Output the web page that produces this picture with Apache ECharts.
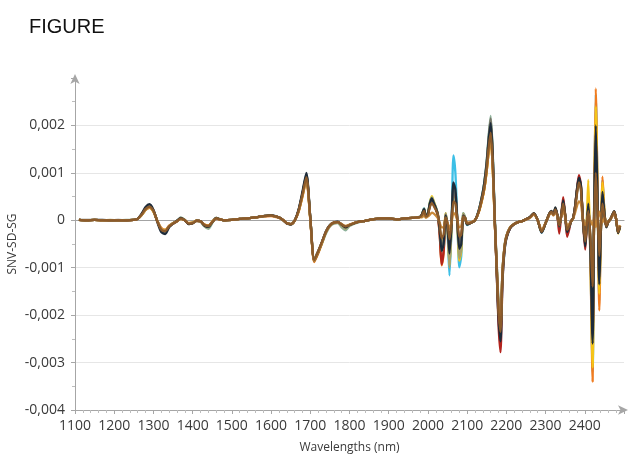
<!DOCTYPE html>
<html>
<head>
<meta charset="utf-8">
<script src="https://cdn.jsdelivr.net/npm/echarts@6/dist/echarts.min.js"></script>
<style>html,body{margin:0;padding:0;background:#fff}#c{width:629px;height:461px}</style>
</head>
<body>
<div id="c"></div>
<script>
// Wavelengths (nm)
const wavelengths = [
 1110,1130,1150,1170,1190,1210,1230,1250,
 1260,1270,1280,1290,1300,1310,1320,1330,1340,1350,1360,1370,1380,1390,1400,1410,1420,1430,1440,1450,1460,1470,1480,
 1500,1520,1540,1560,1580,1600,1620,
 1630,1640,1650,1660,1670,1680,1690,1700,1710,1720,1730,1740,1750,1760,1770,1780,1790,
 1800,1820,1840,1860,1880,1900,1920,1940,1960,1980,
 1985,1990,1995,2000,2005,2010,2015,2020,2025,2030,2035,2040,2045,2050,2055,2060,2065,2070,2075,2080,2085,2090,2095,2100,
 2110,2120,2130,2140,2145,2150,2155,2160,2165,2170,2175,2180,2185,2190,2195,2200,
 2210,2220,2230,2240,2250,2260,2270,2280,2290,2300,2310,
 2315,2320,2325,2330,2335,2340,2345,2350,2355,2360,2365,2370,2375,
 2380,2385,2390,2395,2401,2405,2409,2414,2420,2424,2428,2433,2437,2441,2445,2450,2455,2460,
 2465,2470,2475,2480,2485,2490
];

// SNV-SD-SG values, in units of 1e-4
const specCyan = [
 0.1,0,0.1,0,0,0,0,0.1,
 0.3,1.2,2.4,3,2,-0.2,-2,-2.4,-1.3,-0.7,-0.2,0.4,0,-0.7,-0.6,-0.1,-0.2,-1,-1.3,-0.4,0.4,0.2,0,
 0.1,0.3,0.4,0.6,0.9,1,0.6,
 0.1,-0.6,-0.8,-0.1,2,5.6,9.5,0.5,-8.5,-6.7,-4.6,-2.4,-1.1,-0.5,-0.4,-0.9,-1.4,
 -1,-0.4,-0.1,0.2,0.4,0.4,0.2,0.4,0.5,0.7,
 1.3,2.5,0.9,1.5,3.8,4.8,3.8,2.8,1.2,-2.5,-8.5,-6.5,1,-2.5,-11.6,-2,13.7,10,0,-9.9,-7.5,1.5,0.5,-1,
 -0.5,0,2.2,6,8.8,12.5,17.5,21,14.5,1.5,-9.5,-21,-26.5,-13,-6.8,-3.8,
 -1.6,-0.8,-0.4,-0.2,0.2,0.6,1.4,0,-2.6,-0.6,1.4,
 1.8,1.2,2.5,1,-1.4,1,4,1,-3.2,-1.6,-0.2,0.4,2.6,
 6.2,8.8,7.2,0.5,-5.2,-0.5,5,-6.5,-32,4.5,26.5,3,-17,-2.5,8.5,2,-1.4,-0.3,
 0.2,1,1.8,0.2,-2.6,-1.3
];
const specOrange = [
 0.1,0,0.1,0,0,0,0,0.1,
 0.3,1.1,2.2,2.6,1.8,-0.1,-1.6,-2,-1.1,-0.6,-0.2,0.3,0,-0.6,-0.5,-0.1,-0.2,-0.9,-1.1,-0.3,0.3,0.2,0,
 0.1,0.3,0.4,0.6,0.8,0.9,0.5,
 0.1,-0.6,-0.8,-0.1,1.7,5,8.4,0.2,-8.8,-7,-4.8,-2.6,-1.2,-0.6,-0.5,-1,-1.5,
 -1,-0.4,-0.1,0.2,0.4,0.4,0.2,0.4,0.5,0.7,
 1.2,2.2,0.8,1.2,3.2,4.2,3.4,2.4,1,-3,-9.5,-7,0.5,-1.5,-6,-1,6,5,0,-5,-4,1,0.5,-0.8,
 -0.5,0,1.8,5,7.2,10.5,14.5,17,11.5,0.5,-9.5,-19,-24,-11.5,-6,-3.5,
 -1.5,-0.8,-0.4,-0.2,0.2,0.6,1.4,0,-2.4,-0.6,1.4,
 1.8,1.2,2.4,1,-1.2,1,3.8,1,-2.2,-1.4,-0.2,0.4,2.5,
 6,8.5,7,0.5,-5,-0.5,4,-7,-34,5,27.8,3.5,-19,-2.5,9.2,2,-1.4,-0.3,
 0.2,1,1.8,0.2,-2.5,-1.2
];
const specYellow = [
 0.1,0,0.1,0,0,0,0,0.1,
 0.3,1.1,2.2,2.7,1.8,-0.2,-1.8,-2.1,-1.2,-0.6,-0.2,0.3,0,-0.6,-0.5,-0.1,-0.2,-0.9,-1.2,-0.3,0.4,0.2,0,
 0.1,0.3,0.4,0.6,0.9,1,0.6,
 0.1,-0.6,-0.8,-0.1,1.8,5.2,8.8,0.3,-8.6,-6.8,-4.8,-2.5,-1.1,-0.5,-0.4,-0.9,-1.4,
 -1,-0.4,-0.1,0.2,0.4,0.4,0.2,0.4,0.5,0.7,
 1.3,2.4,0.9,1.4,3.8,5.1,4,2.8,1.2,-1.6,-4.5,-3.8,1.5,-1.8,-9.5,-2,5,4.5,-0.5,-8.5,-6.5,1.2,0.5,-0.8,
 -0.5,0,1.8,5,7.2,10.5,14.5,17,11.5,0.5,-9,-18,-22,-11,-5.8,-3.4,
 -1.5,-0.8,-0.4,-0.2,0.2,0.6,1.4,0,-2.4,-0.6,1.4,
 1.8,1.2,2.6,1,-1.2,1,3.8,1,-2.2,-1.4,-0.2,0.4,2.6,
 6.2,8.8,7.2,0.5,-5,0,8.5,-6,-31,4,24,3,-15.5,-2.5,8,2,-1.4,-0.3,
 0.2,1,1.8,0.2,-2.8,-1.4
];
const specRed = [
 0.1,0,0.1,0,0,0,0,0.1,
 0.3,1.2,2.4,3,2,-0.2,-2,-2.4,-1.3,-0.7,-0.2,0.4,0,-0.7,-0.6,-0.1,-0.2,-1,-1.3,-0.4,0.4,0.2,0,
 0.1,0.3,0.4,0.6,0.9,1,0.6,
 0.1,-0.6,-0.8,-0.1,2,5.5,9.3,0.5,-8.4,-6.6,-4.6,-2.4,-1.1,-0.5,-0.4,-0.9,-1.4,
 -1,-0.4,-0.1,0.2,0.4,0.4,0.2,0.4,0.5,0.7,
 1.2,2.2,0.8,1.2,3.2,4.2,3.4,2.4,1.2,-3,-9.3,-6.5,0.5,-1.5,-6.5,-1,6.5,5,0,-5.5,-4.5,1,0.5,-0.8,
 -0.5,0,2,5.5,8,11.5,16.5,20,13.5,1,-10,-22,-27.8,-13.5,-6.5,-3.8,
 -1.6,-0.8,-0.4,-0.2,0.2,0.6,1.4,0,-2.4,-0.6,1.4,
 1.8,1.2,2.4,1,-2.8,1.2,4.9,1,-3.5,-2,-0.2,0.4,2.8,
 6.5,9.5,7.5,0.5,-6.2,-1.5,2.5,-5,-24,3,18,2,-12,-2,5.5,1.5,-1.4,-0.3,
 0.2,1,1.8,0.2,-2.6,-1.3
];
const specSage = [
 0.1,0,0.1,0,0,0,0.1,0.1,
 0.3,1.1,2.3,2.9,2,-0.1,-1.8,-2.2,-1.2,-0.6,-0.1,0.6,0.1,-0.7,-0.5,0,-0.3,-1.3,-1.8,-0.6,0.5,0.2,0,
 0.1,0.3,0.4,0.6,0.9,1,0.6,
 0.1,-0.6,-0.8,-0.1,2,5.4,9.2,0.5,-8.3,-6.6,-4.8,-2.8,-1.3,-0.7,-0.6,-1.5,-2.1,
 -1.2,-0.5,-0.1,0.2,0.4,0.4,0.2,0.4,0.5,0.8,
 1.3,2.5,0.9,1.4,3.6,4.8,3.8,2.8,1.5,-1.5,-5.5,-4.5,1,-1.2,-8,-1.5,7.5,6,0,-6.5,-5,1.2,0.5,-0.8,
 -0.5,0,2.2,6,8.8,12.5,18,22,15,1.5,-8,-17,-22,-10.5,-5.5,-3.2,
 -1.4,-0.8,-0.4,-0.2,0.2,0.6,1.4,0,-2.5,-0.6,1.4,
 1.8,1.2,2.4,1,-1.2,1,3.6,1,-2,-1.3,-0.2,0.4,2.4,
 5.8,8.2,6.8,0.5,-4.5,-1,2.5,-4,-18,1.5,14,1.5,-10,-2,4.5,1.5,-1.4,-0.3,
 0.2,1,1.8,0.2,-2.6,-1.3
];
const specKhaki = [
 0.1,0,0.1,0,0.1,0,0,0.1,
 0.3,1.1,2.2,2.8,1.9,-0.2,-1.9,-2.2,-1.3,-0.7,-0.2,0.5,0.1,-0.8,-0.6,-0.1,-0.2,-1.2,-1.5,-0.4,0.5,0.2,0,
 0.1,0.3,0.4,0.6,0.9,1,0.6,
 0.1,-0.6,-0.8,-0.1,1.9,5.3,9,0.4,-8.2,-6.5,-4.6,-2.5,-1.2,-0.6,-0.5,-1.2,-1.8,
 -1.1,-0.4,-0.1,0.2,0.4,0.4,0.2,0.4,0.5,0.7,
 1.2,2.3,0.8,1.3,3.4,4.6,3.6,2.6,1.3,-1.8,-6.5,-5,1.5,-1.5,-10,-2,4.5,4,-0.5,-8,-6,1.5,0.6,-0.8,
 -0.5,0,2,5.6,8.3,12,17,21,14,1,-8.5,-18,-23,-11.5,-6,-3.5,
 -1.5,-0.8,-0.4,-0.2,0.2,0.6,1.4,0,-2.4,-0.6,1.4,
 1.8,1.2,2.4,1,-1.2,1,3.8,1,-2.2,-1.4,-0.2,0.4,2.5,
 6,8.5,7,0.5,-5,-1,3,-4.5,-22,2,17,2,-12,-2,5.5,1.5,-1.4,-0.3,
 0.2,1,1.8,0.2,-2.5,-1.2
];
const specGray = [
 0.1,0.1,0.1,0,0,0.1,0,0.1,
 0.3,1.2,2.5,3.1,2.1,-0.2,-2.1,-2.5,-1.3,-0.7,-0.2,0.4,0,-0.7,-0.6,-0.1,-0.2,-1,-1.4,-0.4,0.4,0.2,0,
 0.1,0.3,0.4,0.6,0.9,1,0.6,
 0.1,-0.6,-0.8,-0.1,2.1,5.7,9.6,0.6,-8.3,-6.5,-4.5,-2.3,-1,-0.5,-0.4,-0.9,-1.4,
 -1,-0.4,-0.1,0.2,0.4,0.4,0.2,0.4,0.5,0.7,
 1.2,2.2,0.8,1.3,3.4,4.4,3.5,2.6,1.4,-1.6,-5.5,-4.5,1.2,-1,-6,-1,7,5.5,0,-5.2,-4.3,1.1,0.5,-0.8,
 -0.5,0,2.2,6,8.8,12.5,17.5,21.5,14.5,1.5,-8.5,-17.5,-22,-11,-5.8,-3.4,
 -1.5,-0.8,-0.4,-0.2,0.2,0.6,1.4,0,-2.5,-0.6,1.4,
 1.8,1.2,2.5,1,-1.2,1,3.9,1,-2.3,-1.4,-0.2,0.4,2.6,
 6.2,8.8,7.2,0.5,-5,-1,2.5,-3.5,-19,1.5,14,1.5,-9.5,-1.5,4.5,1.5,-1.4,-0.3,
 0.2,1,1.8,0.2,-2.5,-1.2
];
const specNavy = [
 0.1,0,0.1,0.1,0,0,0,0.1,
 0.3,1.4,2.8,3.4,2.2,-0.4,-2.5,-2.9,-1.5,-0.6,-0.1,0.5,0,-0.8,-0.6,-0.1,-0.2,-1.1,-1.4,-0.4,0.5,0.2,0,
 0.1,0.3,0.4,0.6,0.9,1.1,0.6,
 0.1,-0.7,-0.9,-0.1,2.2,6,10,0.6,-8.6,-6.8,-4.6,-2.4,-1,-0.5,-0.3,-0.9,-1.5,
 -1,-0.4,-0.1,0.2,0.4,0.4,0.2,0.4,0.5,0.7,
 1.3,2.4,0.9,1.4,3.6,4.6,3.6,2.6,1.2,-2,-6.5,-5,1,-1.5,-7,-1,8,6.5,0,-6,-5,1,0.4,-0.9,
 -0.5,0,2.1,5.8,8.5,12,17,20.5,14,1,-10,-20.5,-25.5,-12.5,-6.5,-3.8,
 -1.6,-0.8,-0.4,-0.2,0.2,0.7,1.5,0,-2.6,-0.6,1.5,
 2,1.3,2.7,1.1,-1.3,1.1,4.2,1.1,-2.5,-1.5,-0.2,0.4,2.8,
 6.5,9,7.5,0.5,-5.5,-1,3.5,-5,-26,3,20,2.5,-13.5,-2.5,6,1.5,-1.5,-0.3,
 0.2,1.1,1.9,0.2,-2.7,-1.3
];
const specTan = [
 0.1,0,0.1,0,0,0,0,0.1,
 0.3,1.1,2.2,2.7,1.9,-0.2,-1.8,-2.2,-1.2,-0.6,-0.2,0.3,0,-0.6,-0.5,-0.1,-0.2,-0.9,-1.2,-0.3,0.4,0.2,0,
 0.1,0.3,0.4,0.6,0.9,1,0.6,
 0.1,-0.6,-0.8,-0.1,1.8,5,8.6,0.2,-8.6,-6.8,-4.7,-2.5,-1.1,-0.5,-0.4,-0.8,-1.2,
 -0.9,-0.4,-0.1,0.2,0.4,0.4,0.2,0.4,0.5,0.6,
 0.6,1,0.5,0.8,1.2,1.6,1.4,1,0.5,-0.5,-1.5,-1.5,0.5,-0.5,-1.8,-0.5,1.5,1.2,0,-1.5,-1.2,0.6,0.3,-0.5,
 -0.4,0,1.8,5,7.2,10.5,14.5,17,11.5,0.5,-9,-18.5,-22.5,-11,-5.8,-3.4,
 -1.4,-0.8,-0.4,-0.2,0.2,0.5,1.2,0,-2,-0.5,1.2,
 1.5,1,1.8,0.8,-0.8,0.8,2.2,0.6,-1.2,-0.8,-0.2,0.3,1.5,
 3,4,3.5,0.5,-1,-0.5,1.4,0,-1,0.5,-1.4,0.5,1.8,0.5,-0.5,0.5,-0.8,-0.3,
 0.2,0.8,1.5,0.2,-2,-1
];
const specBrown = [
 0.1,0,0.1,0,0,0,0,0.1,
 0.3,1.2,2.4,2.9,2,-0.2,-2,-2.3,-1.3,-0.7,-0.2,0.4,0,-0.7,-0.6,-0.1,-0.2,-1,-1.2,-0.4,0.4,0.2,0,
 0.1,0.3,0.4,0.6,0.9,1,0.6,
 0.1,-0.6,-0.8,-0.1,2,5.4,9.1,0.5,-8.4,-6.6,-4.5,-2.4,-1.1,-0.5,-0.4,-0.9,-1.3,
 -1,-0.4,-0.1,0.2,0.4,0.4,0.2,0.4,0.5,0.7,
 1.1,2,0.8,1.1,2.8,3.6,3,2.2,1.3,-1,-3.8,-3,0.6,-0.8,-4,-0.8,4,3.5,0,-3.5,-3,0.8,0.4,-0.7,
 -0.5,0,1.9,5.2,7.5,11,15.5,18.5,12.5,0.8,-9,-19,-23.5,-11,-5.8,-3.4,
 -1.5,-0.8,-0.4,-0.2,0.2,0.6,1.4,0,-2.4,-0.6,1.4,
 1.8,1.2,2.3,1,-1.1,1,3.5,1,-2,-1.3,-0.2,0.4,2.4,
 5.5,8,6.5,0.5,-4.5,-1,2,-3,-14,1,10,1,-7.5,-1.5,3.5,1,-1.3,-0.3,
 0.2,1,1.8,0.2,-2.5,-1.2
];

const seriesList = [
  {name: 'cyan', values: specCyan, color: '#3cbfe6'},
  {name: 'orange', values: specOrange, color: '#f07c20'},
  {name: 'yellow', values: specYellow, color: '#f5c518'},
  {name: 'red', values: specRed, color: '#b3231d'},
  {name: 'sage', values: specSage, color: '#8fb29b'},
  {name: 'khaki', values: specKhaki, color: '#a8a26a'},
  {name: 'gray', values: specGray, color: '#767468'},
  {name: 'navy', values: specNavy, color: '#1d2b3a'},
  {name: 'tan', values: specTan, color: '#c8893a'},
  {name: 'brown', values: specBrown, color: '#8b5a2b'}
];

const xTickLabels = ['1100','1200','1300','1400','1500','1600','1700','1800','1900','2000','2100','2200','2300','2400'];
const yTickLabels = {'20': '0,002', '10': '0,001', '0': '0', '-10': '-0,001', '-20': '-0,002', '-30': '-0,003', '-40': '-0,004'};

const chart = echarts.init(document.getElementById('c'), null, {renderer: 'canvas'});
const labelFont = 'Open Sans';
chart.setOption({
  animation: false,
  backgroundColor: '#ffffff',
  title: {
    text: 'FIGURE', left: 24, top: 12,
    textStyle: {fontFamily: 'Liberation Sans', fontSize: 20, fontWeight: 'normal', color: '#111111'}
  },
  grid: {left: 75, right: 5, top: 78, bottom: 51, outerBoundsMode: 'none'},
  xAxis: [{
    type: 'value', min: 1100, max: 2500, interval: 100,
    name: 'Wavelengths (nm)', nameLocation: 'middle', nameGap: 32, nameMoveOverlap: false,
    nameTextStyle: {fontFamily: labelFont, fontSize: 12, color: '#3a3a3a'},
    axisLine: {onZero: false, symbol: ['none', 'arrow'], symbolSize: [7, 10], symbolOffset: [0, 4], lineStyle: {color: '#a6a6a6', width: 1}},
    axisTick: {show: true, length: 4, lineStyle: {color: '#a6a6a6'}},
    minorTick: {show: true, splitNumber: 5, length: 3, lineStyle: {color: '#bdbdbd'}},
    axisLabel: {
      margin: 9, fontFamily: labelFont, fontSize: 14, color: '#3a3a3a',
      formatter: v => xTickLabels.indexOf(String(v)) >= 0 ? String(v) : ''
    },
    splitLine: {show: false}
  }, {
    type: 'value', min: 1100, max: 2500, interval: 100, gridIndex: 0, position: 'bottom',
    axisLine: {show: true, onZero: true, lineStyle: {color: '#a3a3a3', width: 1.2}},
    axisTick: {show: false}, axisLabel: {show: false}, splitLine: {show: false}
  }],
  yAxis: {
    type: 'value', min: -40, max: 30, interval: 10,
    name: 'SNV-SD-SG', nameLocation: 'middle', nameGap: 56, nameRotate: 90, nameMoveOverlap: false,
    nameTextStyle: {fontFamily: labelFont, fontSize: 12, color: '#3a3a3a'},
    axisLine: {show: true, onZero: false, symbol: ['none', 'arrow'], symbolSize: [7, 10], symbolOffset: [0, 4], lineStyle: {color: '#a6a6a6', width: 1}},
    axisTick: {show: true, length: 4, lineStyle: {color: '#a6a6a6'}},
    minorTick: {show: true, splitNumber: 2, length: 3, lineStyle: {color: '#bdbdbd'}},
    axisLabel: {
      margin: 10, fontFamily: labelFont, fontSize: 14, color: '#3a3a3a',
      formatter: v => (yTickLabels[String(v)] !== undefined ? yTickLabels[String(v)] : '')
    },
    splitLine: {show: true, showMinLine: false, showMaxLine: false, lineStyle: {color: '#e6e6e6', width: 1}}
  },
  series: seriesList.map(s => ({
    name: s.name,
    type: 'line',
    xAxisIndex: 0,
    data: wavelengths.map((w, i) => [w, s.values[i]]),
    showSymbol: false,
    smooth: 0.25,
    lineStyle: {color: s.color, width: 2.3},
    itemStyle: {color: s.color}
  }))
});
</script>
</body>
</html>
